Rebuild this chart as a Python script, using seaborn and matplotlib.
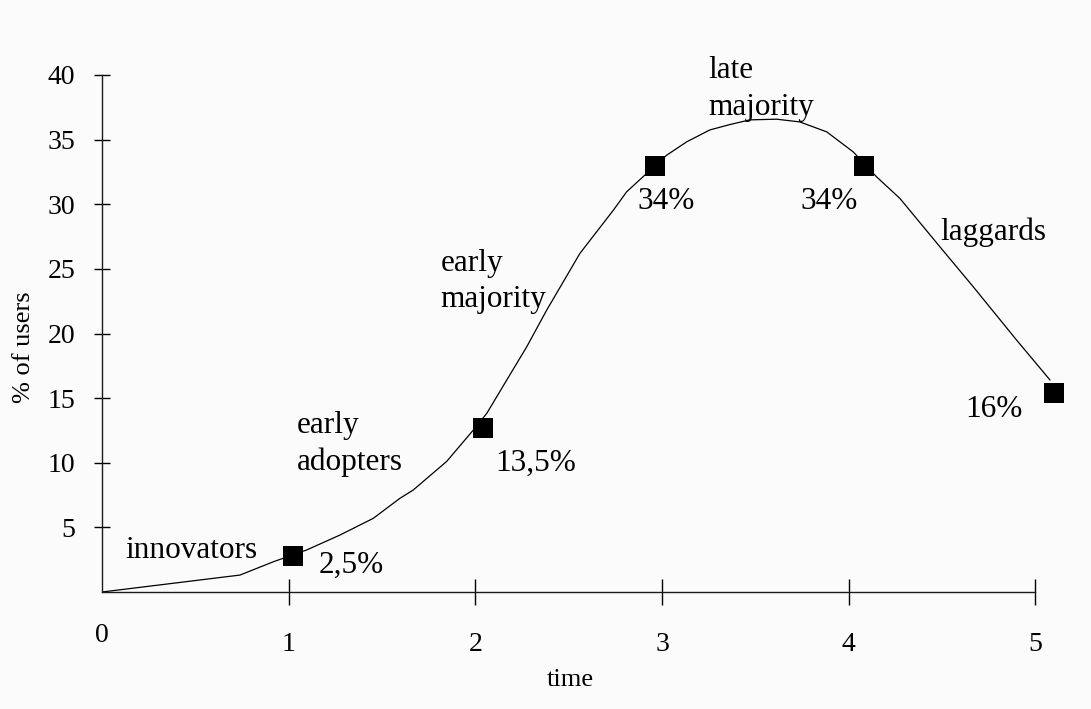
import matplotlib
matplotlib.use("Agg")
import matplotlib.pyplot as plt
import matplotlib.transforms as mtransforms
import seaborn as sns
import pandas as pd

# ---- data ----
curve_x = [0.0, 0.739, 0.918, 1.096, 1.275, 1.453, 1.596, 1.667, 1.846, 1.989,
           2.061, 2.168, 2.275, 2.382, 2.560, 2.739, 2.810, 2.917, 3.025, 3.132,
           3.256, 3.364, 3.471, 3.614, 3.738, 3.882, 4.024, 4.149, 4.274, 4.488,
           4.667, 4.899, 5.078]
curve_y = [0.0, 1.31, 2.34, 3.25, 4.41, 5.70, 7.25, 7.89, 10.1, 12.53,
           13.82, 16.40, 18.97, 21.81, 26.20, 29.54, 30.96, 32.38, 33.80, 34.83,
           35.75, 36.17, 36.53, 36.58, 36.37, 35.60, 34.05, 32.12, 30.45, 26.71,
           23.61, 19.49, 16.40]

marker_x = [1.025, 2.042, 2.962, 4.081, 5.099]
marker_y = [2.78, 12.66, 32.97, 32.97, 15.41]

pct_labels = ["2,5%", "13,5%", "34%", "34%", "16%"]
pct_x = [1.159, 2.105, 2.867, 3.742, 4.626]
pct_y = [1.49, 9.38, 29.67, 29.67, 13.56]

# positions refer to the baseline of the last line of each label
group_labels = ["innovators", "early\nadopters", "early\nmajority", "late\nmajority", "laggards"]
group_x = [0.123, 1.044, 1.814, 3.247, 4.488]
group_y = [2.65, 9.44, 22.02, 36.89, 27.22]

x_ticks = [0, 1, 2, 3, 4, 5]
x_ticklabels = ["0", "1", "2", "3", "4", "5"]
y_ticks = [5, 10, 15, 20, 25, 30, 35, 40]
y_ticklabels = ["5", "10", "15", "20", "25", "30", "35", "40"]

x_label = "time"
y_label = "% of users"

# ---- style ----
bg = "#fbfbfb"
sns.set_style("white", rc={"axes.facecolor": bg, "figure.facecolor": bg,
                           "text.color": "black", "axes.labelcolor": "black",
                           "xtick.color": "black", "ytick.color": "black",
                           "xtick.bottom": True, "ytick.left": True})
plt.rcParams["font.family"] = ["Liberation Serif", "DejaVu Serif"]

fig = plt.figure(figsize=(10.91, 7.09), dpi=100)
ax = fig.add_axes([102 / 1091, 117 / 709, 970.8 / 1091, 517 / 709])

curve = pd.DataFrame({"t": curve_x, "v": curve_y})
marks = pd.DataFrame({"t": marker_x, "v": marker_y})

sns.lineplot(data=curve, x="t", y="v", sort=False, color="black", linewidth=0.9, ax=ax)
sns.scatterplot(data=marks, x="t", y="v", marker="s", s=190, color="black",
                linewidth=0, ax=ax, zorder=5)

ax.set_xlim(0, 5.2)
ax.set_ylim(0, 40)

for side in ("top", "right"):
    ax.spines[side].set_visible(False)
ax.spines["left"].set_bounds(0, 40)
ax.spines["bottom"].set_bounds(0, 5)
for side in ("left", "bottom"):
    ax.spines[side].set_linewidth(1.0)
    ax.spines[side].set_color("#1a1a1a")

ax.set_xticks(x_ticks)
ax.set_xticklabels(x_ticklabels)
ax.set_yticks(y_ticks)
ax.set_yticklabels(y_ticklabels)
ax.tick_params(axis="y", which="major", left=True, direction="inout", length=11.3,
               width=1.0, pad=13.5, labelsize=20, colors="black")
ax.tick_params(axis="x", which="major", bottom=True, direction="inout", length=19,
               width=1.0, pad=19, labelsize=20, colors="black")

# no tick mark at the origin, only its label
ax.xaxis.get_major_ticks()[0].tick1line.set_visible(False)

ax.set_xlabel(x_label, fontsize=19, color="black")
ax.set_ylabel(y_label, fontsize=19, color="black")
ax.xaxis.set_label_coords(0.482, -0.149)
ax.yaxis.set_label_coords(-0.069, 0.474)

for lab, x, y in zip(group_labels, group_x, group_y):
    ax.text(x, y, lab, fontsize=22.5, ha="left", va="baseline", linespacing=1.35,
            color="black", clip_on=False)
for lab, x, y in zip(pct_labels, pct_x, pct_y):
    ax.text(x, y, lab, fontsize=22.5, ha="left", va="baseline", color="black",
            clip_on=False)

# the "0" label sits a little higher than the others in the reference
lbl0 = ax.get_xticklabels()[0]
lbl0.set_transform(lbl0.get_transform() +
                   mtransforms.ScaledTranslation(0, 9 / 100, fig.dpi_scale_trans))

fig.savefig("out.png", dpi=100, facecolor=bg)
